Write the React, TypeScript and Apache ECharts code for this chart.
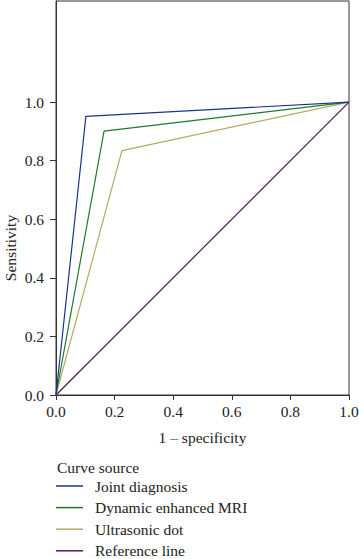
import React, { useEffect, useRef } from "react";
import * as echarts from "echarts";

const seriesNames = ["Joint diagnosis", "Dynamic enhanced MRI", "Ultrasonic dot", "Reference line"];
const jointX = [0, 0.102, 1];
const jointY = [0, 0.951, 1];
const mriX = [0, 0.164, 1];
const mriY = [0, 0.901, 1];
const usX = [0, 0.225, 1];
const usY = [0, 0.834, 1];
const refX = [0, 1];
const refY = [0, 1];
const tickValues = [0, 0.2, 0.4, 0.6, 0.8, 1.0];
const colors = ["#1b3389", "#1f7a2c", "#b6a965", "#54165e"];
const yName = "Sensitivity";
const xName = "1 – specificity";
const legendTitle = "Curve source";

const FONT = "Liberation Serif";

function pairs(xs: number[], ys: number[]) {
  return xs.map((x, i) => [x, ys[i]]);
}

export default function App() {
  const ref = useRef<HTMLDivElement>(null);
  useEffect(() => {
    if (!ref.current) return;
    const chart = echarts.init(ref.current, undefined, { renderer: "svg" });
    const allData = [pairs(jointX, jointY), pairs(mriX, mriY), pairs(usX, usY), pairs(refX, refY)];
    chart.setOption({
      animation: false,
      textStyle: { fontFamily: FONT, color: "#222" },
      title: {
        text: legendTitle,
        left: 52,
        top: 454,
        textStyle: { fontFamily: FONT, fontSize: 15.5, fontWeight: "normal", color: "#222" },
      },
      graphic: [
        {
          type: "text",
          x: 10,
          y: 248,
          rotation: Math.PI / 2,
          style: {
            text: yName,
            fontFamily: FONT,
            fontSize: 15.5,
            fill: "#222",
            textAlign: "center",
            textVerticalAlign: "middle",
          },
        },
      ],
      legend: {
        orient: "vertical",
        left: 56,
        top: 478,
        height: 100,
        padding: 0,
        itemWidth: 27,
        itemHeight: 1.5,
        itemGap: 5.6,
        icon: "rect",
        textStyle: { fontFamily: FONT, fontSize: 15.5, color: "#222", padding: [0, 0, 0, 7], lineHeight: 15 },
        data: seriesNames,
      },
      grid: {
        left: 56,
        right: 10,
        top: 1,
        bottom: 164,
        outerBoundsMode: "none",
        containLabel: false,
        show: true,
        borderColor: "#333",
        borderWidth: 1,
        backgroundColor: "#fff",
      },
      xAxis: {
        type: "value",
        min: 0,
        max: 1,
        interval: 0.2,
        name: xName,
        nameLocation: "middle",
        nameGap: 34,
        nameMoveOverlap: false,
        nameTextStyle: { fontFamily: FONT, fontSize: 15.5, color: "#222" },
        axisLine: { lineStyle: { color: "#333" } },
        axisTick: { show: true, length: 5, lineStyle: { color: "#333" } },
        axisLabel: {
          fontFamily: FONT,
          fontSize: 15.5,
          color: "#222",
          margin: 8,
          formatter: (v: number) => v.toFixed(1),
        },
        splitLine: { show: false },
      },
      yAxis: {
        type: "value",
        min: 0,
        max: 1.345,
        axisLine: { lineStyle: { color: "#333" } },
        axisTick: { show: true, length: 6, customValues: tickValues, lineStyle: { color: "#333" } },
        axisLabel: {
          fontFamily: FONT,
          fontSize: 15.5,
          color: "#222",
          margin: 12,
          customValues: tickValues,
          formatter: (v: number) => v.toFixed(1),
        },
        splitLine: { show: false },
      },
      series: seriesNames.map((name, i) => ({
        name,
        type: "line",
        data: allData[i],
        showSymbol: false,
        symbol: "none",
        lineStyle: { color: colors[i], width: 1.2 },
        itemStyle: { color: colors[i] },
        z: 10 - i,
      })),
    });
    return () => chart.dispose();
  }, []);
  return (
    <div
      ref={ref}
      style={{ position: "fixed", left: 0, top: 0, width: 359, height: 559, background: "#fff" }}
    />
  );
}
